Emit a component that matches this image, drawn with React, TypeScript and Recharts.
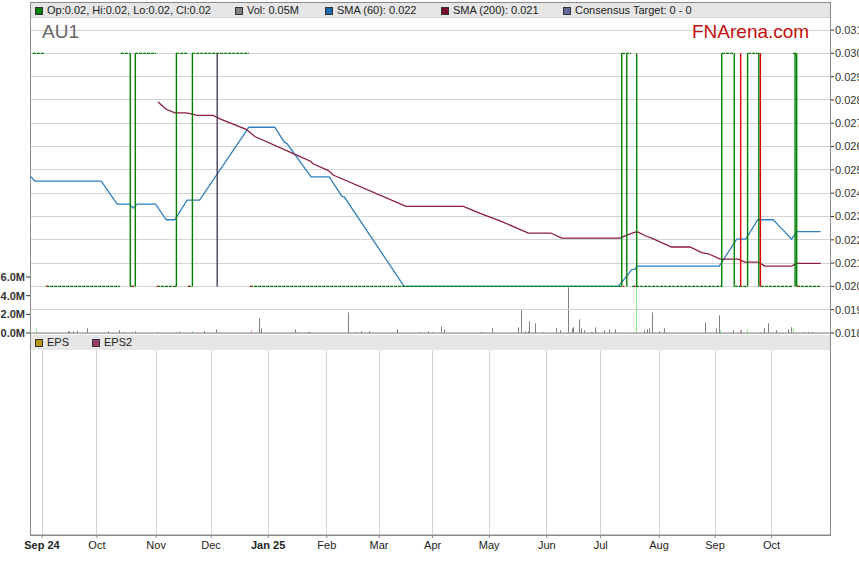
import React from 'react';
import { ComposedChart, LineChart, Line, Bar, XAxis, YAxis, CartesianGrid } from 'recharts';

const FONT = 'Arial, "Liberation Sans", sans-serif';

// x values are trading days counted from the left edge of the chart
const monthTicks = [4.5, 25.1, 47.3, 67.9, 89.3, 111.3, 130.9, 151, 172.2, 193.8, 214, 235.9, 256.9, 278.1];
const monthLabels = ['Sep 24', 'Oct', 'Nov', 'Dec', 'Jan 25', 'Feb', 'Mar', 'Apr', 'May', 'Jun', 'Jul', 'Aug', 'Sep', 'Oct'];

const priceTicks = [0.018, 0.019, 0.02, 0.021, 0.022, 0.023, 0.024, 0.025, 0.026, 0.027, 0.028, 0.029, 0.03, 0.031];
const volTicks = [0, 2e6, 4e6, 6e6];
const PRICE_DOMAIN = [0.018, 0.03156];
const DAY_DOMAIN = [0, 300];

const LOW = 0.02;
const HIGH = 0.03;

// days the stock sat at 0.030 / 0.020
const highRuns = [[1.1, 5.6], [34.1, 37.5], [39.4, 47.3], [54.8, 58.9], [60.8, 82.1], [222, 225.4], [259.5, 264], [269.3, 273.8], [286.1, 287.6]];
const lowRuns = [[6, 33.8], [37.9, 39.4], [47.6, 54.8], [59.3, 60.8], [82.5, 221.6], [225.8, 259.5], [264.4, 268.9], [274.1, 286.1], [287.6, 296.6]];
const downDays = [6.0, 38.3, 47.6, 59.3, 82.5, 222.3, 226.5, 287.9];

// high-low ranges (0.020 -> 0.030)
const upRanges = [37.6, 39.5, 54.9, 60.9, 221.9, 223.8, 227.5, 259.4, 264.1, 269.1, 273.3, 286.9, 287.5];
const downRanges = [266.5, 273.9];
const flatRanges = [70.2];

const sma60 = [
  [0, 0.02475], [1.8, 0.02452], [26.7, 0.02452], [32.7, 0.02353], [37.4, 0.02353], [38.6, 0.02336], [40.2, 0.02353],
  [47.1, 0.02353], [51.1, 0.02286], [54.3, 0.02286], [58.9, 0.0237], [63.6, 0.0237], [82.1, 0.02683], [91.8, 0.02683],
  [95.3, 0.0262], [96.5, 0.02611], [105.4, 0.0247], [112.2, 0.0247], [116.9, 0.02388], [117.9, 0.02383], [140.3, 0.02],
  [220.6, 0.02], [221.9, 0.02017], [225.6, 0.02071], [226.9, 0.02074], [227.6, 0.02087], [258.5, 0.02087], [265, 0.02203],
  [268.4, 0.02203], [272.9, 0.02286], [278.7, 0.02286], [280.6, 0.02263], [284.4, 0.02218], [285.6, 0.02203],
  [287.5, 0.02235], [296.5, 0.02235],
];

const sma200 = [
  [48, 0.02791], [51.1, 0.0276], [54.3, 0.02745], [58.6, 0.02745], [60.5, 0.0274], [62.7, 0.02734], [68.6, 0.02734],
  [71.7, 0.02717], [81.1, 0.02674], [84.3, 0.02643], [101.3, 0.02557], [105, 0.02538], [106.2, 0.02526], [111.9, 0.02497],
  [113.7, 0.02478], [141, 0.02343], [162.5, 0.02343], [168.8, 0.02313], [176.3, 0.02281], [186.9, 0.02229], [195.3, 0.02229],
  [199.4, 0.02207], [221.3, 0.02207], [223.1, 0.02217], [226.9, 0.02233], [228.1, 0.02233], [231.3, 0.02214], [233.1, 0.02207],
  [240.6, 0.02169], [247.5, 0.02169], [251.9, 0.02145], [254.4, 0.0214], [258.8, 0.02117], [265.6, 0.02117], [268.1, 0.02104],
  [273.1, 0.02104], [275.6, 0.02087], [285.6, 0.02087], [287.5, 0.02099], [296.5, 0.02099],
];

// [day, volume in millions, tone] g = flat, u = up day, r = down day
const volume: [number, number, string][] = [
  [2.3, 0.43, 'u'], [14.3, 0.18, 'g'], [15, 0.18, 'g'], [16.5, 0.15, 'g'], [18, 0.25, 'g'], [21.4, 0.5, 'g'], [29.6, 0.18, 'g'],
  [33.4, 0.29, 'g'], [34.9, 0.21, 'u'], [38.3, 0.14, 'r'], [39.4, 0.18, 'g'], [48, 0.14, 'r'], [55.1, 0.14, 'u'], [55.9, 0.14, 'g'],
  [61.1, 0.21, 'u'], [65.3, 0.21, 'g'], [70.1, 0.39, 'g'], [82.9, 0.29, 'r'], [85.9, 1.57, 'g'], [87, 0.5, 'g'], [99.4, 0.39, 'g'],
  [100.5, 0.1, 'g'], [104.3, 0.1, 'g'], [105, 0.1, 'g'], [119.6, 2.21, 'g'], [122.6, 0.1, 'g'], [124.5, 0.18, 'g'], [127.5, 0.18, 'g'],
  [138, 0.39, 'g'], [146.3, 0.1, 'g'], [149.3, 0.18, 'g'], [151.1, 0.1, 'g'], [154.5, 0.71, 'g'], [155.6, 0.39, 'g'], [169.5, 0.1, 'g'],
  [170.3, 0.1, 'g'], [173.4, 0.5, 'g'], [183.1, 0.61, 'g'], [184.5, 2.54, 'g'], [186, 0.18, 'g'], [186.8, 0.18, 'g'], [187.5, 1.25, 'g'],
  [189.4, 1.04, 'g'], [192.4, 0.1, 'g'], [197.3, 0.5, 'g'], [199.1, 0.29, 'g'], [202.1, 4.9, 'g'], [203.3, 0.5, 'g'], [204, 0.61, 'g'],
  [205.9, 1.46, 'g'], [207, 0.5, 'g'], [207.8, 0.29, 'g'], [210.4, 0.1, 'g'], [210.8, 0.1, 'g'], [211.9, 0.61, 'g'], [212.6, 0.1, 'g'],
  [215.6, 0.29, 'g'], [217.5, 0.39, 'g'], [219.4, 0.39, 'g'], [221.6, 0.1, 'u'], [227.3, 4.9, 'u'], [230.6, 0.29, 'g'], [231.4, 0.39, 'g'],
  [232.5, 0.5, 'g'], [233.3, 2.21, 'g'], [235.9, 0.18, 'g'], [238.1, 0.5, 'g'], [253.5, 1.14, 'g'], [257.3, 0.5, 'g'], [258.4, 1.89, 'g'],
  [259.1, 0.29, 'u'], [264, 0.29, 'g'], [266.3, 0.29, 'r'], [267, 0.29, 'g'], [268.9, 0.39, 'u'], [273.8, 0.1, 'r'], [275.6, 0.5, 'g'],
  [276.8, 1.04, 'g'], [280.1, 0.29, 'g'], [284.6, 0.39, 'g'], [285.4, 0.61, 'g'], [286.5, 0.5, 'u'], [290.3, 0.1, 'g'], [292.1, 0.1, 'g'],
  [293.3, 0.1, 'g'],
];

const toneColor: Record<string, string> = { g: '#808080', u: '#86f086', r: '#f29a9a' };

const VOL_MAX = 33.86e6;

const volumeRows = volume.map(([d, m, tone]) => ({ d, v: m * 1e6, tone }));

function runs(list: number[][], level: number) {
  const out: { d: number; p: number | null }[] = [];
  list.forEach(([a, b]) => {
    out.push({ d: a, p: level }, { d: b, p: level }, { d: b, p: null });
  });
  return out;
}

function ranges(list: number[]) {
  const out: { d: number; p: number | null }[] = [];
  list.forEach((d) => {
    out.push({ d, p: LOW }, { d, p: HIGH }, { d, p: null });
  });
  return out;
}

// full-width rule at each price tick (the horizontal grid)
const gridRows = priceTicks.flatMap((t) => runs([DAY_DOMAIN], t));

const smaRows = (pts: number[][]) => pts.map(([d, p]) => ({ d, p }));

// one-pixel volume stick snapped to the pixel grid
function VolStick(props: any) {
  const { x, y, width, height, payload } = props;
  if (!height || height <= 0) return null;
  const cx = Math.floor(x + width / 2);
  return <rect x={cx} y={y} width={1} height={height} fill={toneColor[payload.tone]} />;
}

function MonthTick({ x, y, payload }: any) {
  const label = monthLabels[monthTicks.indexOf(payload.value)] ?? '';
  const bold = label.includes(' ');
  return (
    <text x={x} y={y} dy="0.71em" textAnchor="middle" fontSize={11} fontFamily={FONT}
      fontWeight={bold ? 700 : 400} fill="#222">
      {label}
    </text>
  );
}

function Key({ left, top, color, label }: { left: number; top: number; color: string; label: string }) {
  return (
    <div style={{ position: 'absolute', left, top, display: 'flex', alignItems: 'center', fontSize: 11, lineHeight: '13px', color: '#222', whiteSpace: 'nowrap' }}>
      <span style={{ display: 'inline-block', width: 8, height: 8, background: color, border: '1px solid #333', boxSizing: 'border-box', marginRight: 4 }} />
      {label}
    </div>
  );
}

const lineBase = { dot: false, activeDot: false, isAnimationActive: false, connectNulls: false } as const;

export default function App() {
  return (
    <div style={{ position: 'absolute', left: 0, top: 0, width: 859, height: 566, background: '#fff', fontFamily: FONT, overflow: 'hidden' }}>
      <div style={{ position: 'absolute', left: 0, top: 0 }}>
        <ComposedChart width={859} height={341} data={volumeRows} margin={{ top: 17, right: 0, bottom: 7, left: 0 }}>
          <CartesianGrid stroke="#d4d4d4" shapeRendering="crispEdges" />
          <XAxis dataKey="d" type="number" domain={DAY_DOMAIN} ticks={monthTicks} interval={0} allowDataOverflow
            tick={false} tickLine={false} height={1} axisLine={{ stroke: '#8a8a8a' }} />
          <YAxis orientation="right" width={29} domain={PRICE_DOMAIN} ticks={priceTicks} interval={0}
            allowDataOverflow axisLine={false} tickSize={4} tickMargin={1} tickLine={{ stroke: '#333' }}
            tick={{ fontSize: 11, fill: '#333', fontFamily: FONT }}
            tickFormatter={(v: number) => v.toFixed(3)} />
          <YAxis yAxisId="vol" orientation="left" width={30} domain={[0, VOL_MAX]} ticks={volTicks} interval={0}
            allowDataOverflow axisLine={false} tickSize={4} tickMargin={1} tickLine={{ stroke: '#333' }}
            tick={{ fontSize: 11, fontWeight: 700, fill: '#333', fontFamily: FONT }}
            tickFormatter={(v: number) => `${(v / 1e6).toFixed(1)}M`} />
          <Line {...lineBase} data={gridRows} dataKey="p" stroke="#d4d4d4" strokeWidth={1} shapeRendering="crispEdges" />
          <Bar yAxisId="vol" dataKey="v" barSize={1} isAnimationActive={false} shape={<VolStick />} />
          <Line {...lineBase} data={smaRows(sma60)} dataKey="p" stroke="#2f80c0" strokeWidth={1.3} />
          <Line {...lineBase} data={smaRows(sma200)} dataKey="p" stroke="#8b1c3c" strokeWidth={1.3} />
          <Line {...lineBase} data={runs(lowRuns, LOW)} dataKey="p" stroke="#008000" strokeWidth={1.2} strokeDasharray="3 1" />
          <Line {...lineBase} data={runs(highRuns, HIGH)} dataKey="p" stroke="#008000" strokeWidth={1.2} strokeDasharray="3 1" />
          <Line {...lineBase} data={runs(downDays.map((d) => [d, d + 0.6]), LOW)} dataKey="p" stroke="#e00000" strokeWidth={1.2} />
          <Line {...lineBase} data={ranges(upRanges)} dataKey="p" stroke="#008000" strokeWidth={1.4} />
          <Line {...lineBase} data={ranges(downRanges)} dataKey="p" stroke="#e00000" strokeWidth={1.4} />
          <Line {...lineBase} data={ranges(flatRanges)} dataKey="p" stroke="#4a3d57" strokeWidth={1.4} />
        </ComposedChart>
      </div>

      <div style={{ position: 'absolute', left: 0, top: 335 }}>
        <LineChart width={859} height={231} data={monthTicks.map((d) => ({ d }))} margin={{ top: 0, right: 29, bottom: 0, left: 30 }}>
          <CartesianGrid horizontal={false} stroke="#d4d4d4" shapeRendering="crispEdges" />
          <XAxis dataKey="d" type="number" domain={DAY_DOMAIN} ticks={monthTicks} interval={0} height={31}
            tickSize={3} tickMargin={3} tick={<MonthTick />} axisLine={{ stroke: '#8a8a8a' }} tickLine={{ stroke: '#8a8a8a' }} />
          <YAxis hide domain={[0, 1]} />
          <Line dataKey="eps" dot={false} isAnimationActive={false} stroke="#b8960b" />
        </LineChart>
      </div>

      <div style={{ position: 'absolute', left: 30, top: 2, width: 801, height: 15, background: '#e6e6e6' }} />
      <div style={{ position: 'absolute', left: 30, top: 335, width: 801, height: 15, background: '#e6e6e6' }} />
      <div style={{ position: 'absolute', left: 30, top: 2, width: 801, height: 534, boxSizing: 'border-box', border: '1px solid #8a8a8a' }} />

      <Key left={35} top={4} color="#008000" label="Op:0.02, Hi:0.02, Lo:0.02, Cl:0.02" />
      <Key left={235} top={4} color="#808080" label="Vol: 0.05M" />
      <Key left={325} top={4} color="#1a6aad" label="SMA (60): 0.022" />
      <Key left={441} top={4} color="#7a0f2a" label="SMA (200): 0.021" />
      <Key left={563} top={4} color="#6b6b9b" label="Consensus Target: 0 - 0" />

      <Key left={35} top={336} color="#b8960b" label="EPS" />
      <Key left={92} top={336} color="#9a3c6a" label="EPS2" />

      <div style={{ position: 'absolute', left: 42, top: 22, fontSize: 19, lineHeight: 1, color: '#666' }}>AU1</div>
      <div style={{ position: 'absolute', left: 692, top: 22, fontSize: 19, lineHeight: 1, color: '#c41010' }}>FNArena.com</div>
    </div>
  );
}
